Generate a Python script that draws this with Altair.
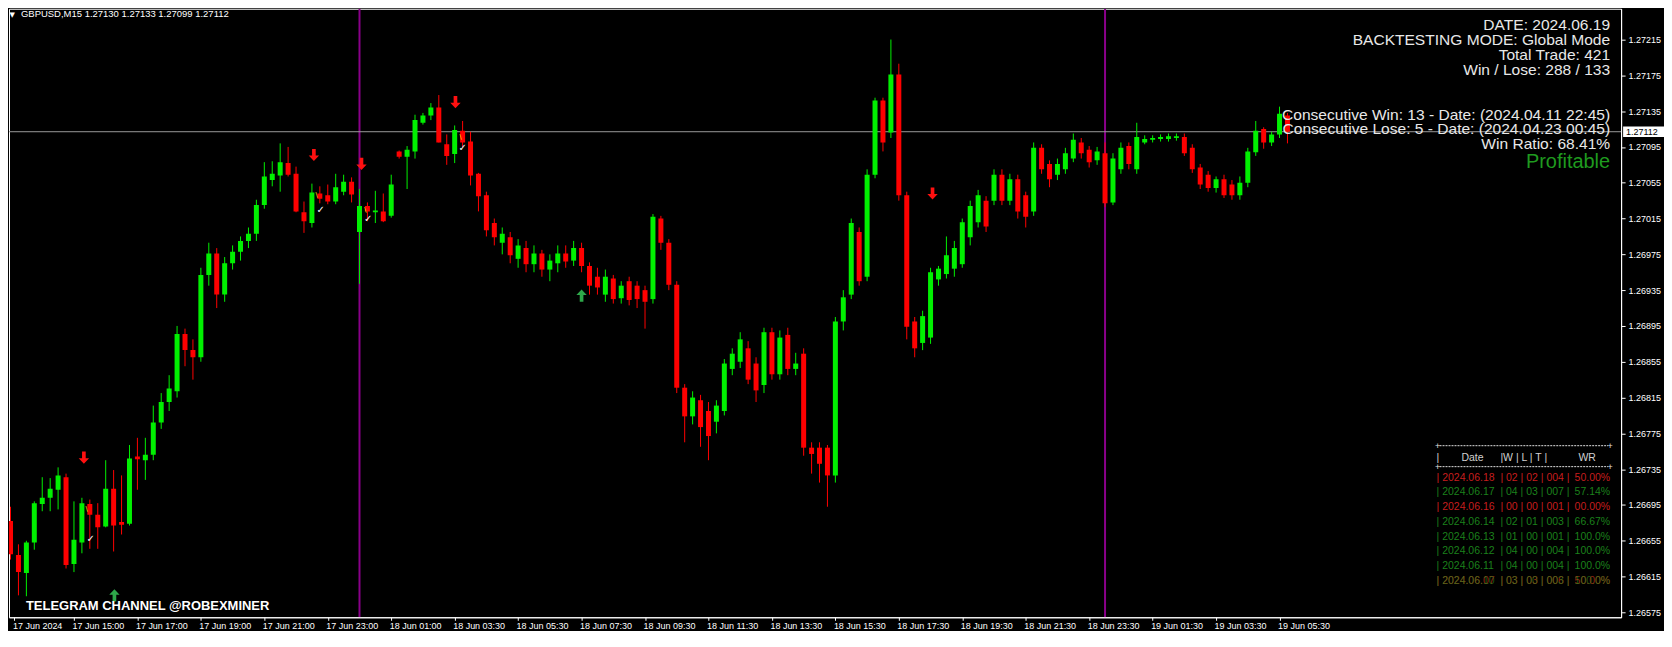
import json
import altair as alt
import pandas as pd

# ---------------- candle data (GBPUSD M15) ----------------
bar_open = [1.26677,1.26639,1.26619,1.26653,1.26696,1.26703,1.26712,1.26726,1.26629,1.26653,
            1.26696,1.26684,1.26671,1.26713,1.26676,1.26674,1.26749,1.26745,1.26751,1.26787,
            1.26810,1.26822,1.26886,1.26868,1.26860,1.26952,1.26976,1.26930,1.26965,1.26978,
            1.26990,1.26998,1.27030,1.27058,1.27063,1.27077,1.27065,1.27022,1.27010,1.27043,
            1.27041,1.27034,1.27045,1.27056,1.27000,1.27029,1.27022,1.27023,1.27018,1.27090,
            1.27084,1.27090,1.27122,1.27130,1.27139,1.27098,1.27087,1.27113,1.27101,1.27065,
            1.27041,1.27010,1.26988,1.26994,1.26970,1.26982,1.26964,1.26976,1.26958,1.26965,
            1.26976,1.26968,1.26982,1.26962,1.26950,1.26930,1.26948,1.26926,1.26945,1.26940,
            1.26935,1.26925,1.27015,1.26988,1.26941,1.26826,1.26794,1.26812,1.26800,1.26788,
            1.26800,1.26847,1.26855,1.26870,1.26853,1.26829,1.26888,1.26841,1.26885,1.26847,
            1.26864,1.26759,1.26759,1.26759,1.26728,1.26900,1.26930,1.27000,1.26950,1.27064,
            1.27147,1.27111,1.27176,1.27041,1.26900,1.26876,1.26882,1.26947,1.26953,1.26959,
            1.26964,1.26994,1.27011,1.27035,1.27035,1.27064,1.27035,1.27059,1.27041,1.27023,
            1.27094,1.27076,1.27064,1.27070,1.27082,1.27100,1.27092,1.27080,1.27088,1.27033,
            1.27070,1.27096,1.27070,1.27100,1.27103,1.27104,1.27104,1.27105,1.27106,1.27094,
            1.27072,1.27064,1.27049,1.27059,1.27053,1.27041,1.27055,1.27089,1.27115,1.27100,
            1.27109,1.27130]
bar_high = [1.26693,1.26651,1.26655,1.26699,1.26726,1.26725,1.26737,1.26730,1.26699,1.26703,
            1.26701,1.26697,1.26745,1.26734,1.26728,1.26762,1.26770,1.26770,1.26806,1.26820,
            1.26840,1.26895,1.26892,1.26880,1.26960,1.26988,1.26982,1.26972,1.26985,1.26995,
            1.27005,1.27036,1.27078,1.27079,1.27099,1.27095,1.27073,1.27034,1.27054,1.27051,
            1.27053,1.27065,1.27064,1.27061,1.27048,1.27033,1.27046,1.27043,1.27064,1.27091,
            1.27096,1.27131,1.27133,1.27144,1.27153,1.27109,1.27119,1.27124,1.27112,1.27066,
            1.27045,1.27015,1.27005,1.27000,1.26992,1.26990,1.26985,1.26980,1.26975,1.26985,
            1.26985,1.26990,1.26988,1.26966,1.26960,1.26958,1.26952,1.26945,1.26950,1.26945,
            1.26940,1.27020,1.27018,1.26992,1.26945,1.26830,1.26822,1.26818,1.26810,1.26812,
            1.26858,1.26870,1.26888,1.26878,1.26860,1.26893,1.26893,1.26890,1.26893,1.26865,
            1.26870,1.26765,1.26765,1.26762,1.26905,1.26935,1.27015,1.27005,1.27070,1.27150,
            1.27150,1.27215,1.27188,1.27045,1.26905,1.26912,1.26960,1.26962,1.26995,1.26990,
            1.27015,1.27035,1.27047,1.27040,1.27070,1.27070,1.27065,1.27064,1.27045,1.27100,
            1.27098,1.27080,1.27082,1.27094,1.27110,1.27105,1.27096,1.27095,1.27100,1.27088,
            1.27100,1.27100,1.27122,1.27108,1.27108,1.27109,1.27110,1.27110,1.27110,1.27098,
            1.27076,1.27068,1.27062,1.27064,1.27058,1.27062,1.27094,1.27124,1.27117,1.27112,
            1.27140,1.27133]
bar_low = [1.26634,1.26594,1.26593,1.26645,1.26688,1.26688,1.26690,1.26624,1.26620,1.26641,
           1.26646,1.26646,1.26670,1.26643,1.26662,1.26672,1.26712,1.26723,1.26745,1.26780,
           1.26800,1.26815,1.26850,1.26835,1.26855,1.26940,1.26915,1.26922,1.26958,1.26968,
           1.26982,1.26990,1.27026,1.27051,1.27045,1.27062,1.27022,1.26999,1.27005,1.27032,
           1.27031,1.27031,1.27041,1.27033,1.26942,1.27012,1.27010,1.27011,1.27016,1.27082,
           1.27048,1.27082,1.27120,1.27125,1.27100,1.27075,1.27077,1.27095,1.27052,1.27023,
           1.26995,1.26985,1.26975,1.26965,1.26960,1.26955,1.26955,1.26950,1.26945,1.26955,
           1.26960,1.26962,1.26955,1.26930,1.26930,1.26922,1.26920,1.26920,1.26918,1.26915,
           1.26892,1.26920,1.26980,1.26935,1.26820,1.26765,1.26785,1.26760,1.26745,1.26775,
           1.26795,1.26840,1.26848,1.26830,1.26810,1.26820,1.26835,1.26835,1.26840,1.26840,
           1.26750,1.26730,1.26720,1.26693,1.26720,1.26890,1.26925,1.26940,1.26945,1.27060,
           1.27090,1.27105,1.27035,1.26880,1.26860,1.26868,1.26875,1.26940,1.26948,1.26950,
           1.26960,1.26985,1.27005,1.27000,1.27030,1.27030,1.27030,1.27015,1.27005,1.27018,
           1.27065,1.27050,1.27058,1.27065,1.27078,1.27082,1.27072,1.27075,1.27028,1.27030,
           1.27065,1.27070,1.27065,1.27098,1.27100,1.27101,1.27101,1.27102,1.27085,1.27066,
           1.27048,1.27045,1.27044,1.27038,1.27036,1.27036,1.27050,1.27085,1.27093,1.27096,
           1.27105,1.27099]
bar_close = [1.26640,1.26620,1.26653,1.26697,1.26703,1.26713,1.26728,1.26628,1.26656,1.26697,
             1.26684,1.26670,1.26713,1.26672,1.26673,1.26747,1.26746,1.26751,1.26787,1.26810,
             1.26825,1.26886,1.26868,1.26860,1.26952,1.26976,1.26930,1.26965,1.26978,1.26990,
             1.26998,1.27030,1.27062,1.27065,1.27078,1.27064,1.27023,1.27012,1.27044,1.27037,
             1.27034,1.27050,1.27056,1.27042,1.27029,1.27023,1.27024,1.27012,1.27053,1.27084,
             1.27092,1.27125,1.27130,1.27139,1.27100,1.27085,1.27114,1.27100,1.27063,1.27040,
             1.27002,1.26994,1.26998,1.26974,1.26985,1.26964,1.26976,1.26958,1.26968,1.26976,
             1.26967,1.26982,1.26962,1.26940,1.26938,1.26950,1.26925,1.26940,1.26924,1.26925,
             1.26922,1.27017,1.26988,1.26941,1.26826,1.26794,1.26815,1.26782,1.26772,1.26806,
             1.26853,1.26864,1.26880,1.26835,1.26823,1.26888,1.26841,1.26882,1.26847,1.26853,
             1.26759,1.26752,1.26741,1.26728,1.26900,1.26927,1.27010,1.26945,1.27064,1.27147,
             1.27100,1.27176,1.27041,1.26894,1.26870,1.26906,1.26955,1.26959,1.26974,1.26982,
             1.27011,1.27029,1.27041,1.27006,1.27064,1.27035,1.27059,1.27023,1.27017,1.27094,
             1.27070,1.27059,1.27076,1.27088,1.27103,1.27088,1.27078,1.27090,1.27032,1.27082,
             1.27094,1.27076,1.27106,1.27104,1.27105,1.27106,1.27107,1.27107,1.27088,1.27070,
             1.27053,1.27049,1.27059,1.27041,1.27041,1.27055,1.27090,1.27113,1.27100,1.27109,
             1.27132,1.27112]

# ---------------- axes ----------------
x_tick_bars = [0.5, 8, 16, 24, 32, 40, 48, 56, 64, 72, 80, 88, 96, 104, 112, 120, 128, 136, 144, 152, 160]
x_tick_labels = ["17 Jun 2024", "17 Jun 15:00", "17 Jun 17:00", "17 Jun 19:00", "17 Jun 21:00",
                 "17 Jun 23:00", "18 Jun 01:00", "18 Jun 03:30", "18 Jun 05:30", "18 Jun 07:30",
                 "18 Jun 09:30", "18 Jun 11:30", "18 Jun 13:30", "18 Jun 15:30", "18 Jun 17:30",
                 "18 Jun 19:30", "18 Jun 21:30", "18 Jun 23:30", "19 Jun 01:30", "19 Jun 03:30",
                 "19 Jun 05:30"]
y_ticks = [1.26575, 1.26615, 1.26655, 1.26695, 1.26735, 1.26775, 1.26815, 1.26855, 1.26895,
           1.26935, 1.26975, 1.27015, 1.27055, 1.27095, 1.27135, 1.27175, 1.27215]

# ---------------- chart objects ----------------
separator_bars = [44, 138]
current_price = [1.27112]
sell_arrow_bars = [9.25, 38.25, 44.25, 56.1, 116.25]
sell_arrow_prices = [1.26748, 1.27086, 1.27076, 1.27145, 1.27043]
buy_arrow_bars = [13.1, 72]
buy_arrow_prices = [1.26594, 1.26929]
check_bars = [10.1, 39.1, 45.1, 57.0]
check_prices = [1.26657, 1.27024, 1.27014, 1.27094]
tick_mark_bars = [9.6, 38.6, 44.75, 56.75]
tick_mark_prices = [1.26690, 1.27041, 1.27024, 1.27106]

header_text = "GBPUSD,M15  1.27130 1.27133 1.27099 1.27112"
info_lines = ["DATE: 2024.06.19", "BACKTESTING MODE: Global Mode", "Total Trade: 421",
              "Win / Lose: 288 / 133", "Consecutive Win: 13 - Date: (2024.04.11 22:45)",
              "Consecutive Lose: 5 - Date: (2024.04.23 00:45)", "Win Ratio: 68.41%"]
profit_text = "Profitable"
telegram_text = "TELEGRAM CHANNEL @ROBEXMINER"

table_header = ["|", "Date", "|W | L | T |", "WR"]
table_dates = ["| 2024.06.18", "| 2024.06.17", "| 2024.06.16", "| 2024.06.14", "| 2024.06.13",
               "| 2024.06.12", "| 2024.06.11", "| 2024.06.07", "| 2024.06.10"]
table_counts = ["| 02 | 02 | 004 |", "| 04 | 03 | 007 |", "| 00 | 00 | 001 |", "| 02 | 01 | 003 |",
                "| 01 | 00 | 001 |", "| 04 | 00 | 004 |", "| 04 | 00 | 004 |", "| 03 | 03 | 006 |",
                "| 03 | 00 | 003 |"]
table_wr = ["50.00%", "57.14%", "00.00%", "66.67%", "100.0%", "100.0%", "100.0%", "50.00%", "100.0%"]
table_row = [0, 1, 2, 3, 4, 5, 6, 7, 7]
table_color = ["#dd2020", "#1f8f1f", "#dd2020", "#1f8f1f", "#1f8f1f", "#1f8f1f", "#1f8f1f",
               "#c03018", "#2f8f1f"]
table_opacity = [0.9, 0.9, 0.9, 0.9, 0.9, 0.9, 0.9, 0.75, 0.6]

GREEN = "#00f000"
RED = "#ff0000"
FONT = "Liberation Sans"
W, H = 1616, 610

candles = pd.DataFrame({
    "i": list(range(len(bar_open))),
    "open": bar_open, "high": bar_high, "low": bar_low, "close": bar_close,
})
candles["dir"] = ["up" if c >= o else "down" for o, c in zip(bar_open, bar_close)]

xscale = alt.Scale(domain=[0.4375, 202.4375], nice=False, zero=False)
yscale = alt.Scale(domain=[1.265695, 1.272494], nice=False, zero=False)
label_expr = json.dumps(x_tick_labels) + "[round(datum.value / 8)]"

xaxis = alt.Axis(values=x_tick_bars, labelExpr=label_expr, orient="bottom", tickSize=3,
                 labelPadding=1, labelAlign="left", labelBaseline="top", labelFont=FONT,
                 labelFontSize=9, labelColor="white", tickColor="white", domainColor="white",
                 grid=False, title=None, labelOverlap=False, labelFlush=False, labelBound=False,
                 labelOffset=-2)
yaxis = alt.Axis(values=y_ticks, format=".5f", orient="right", tickSize=4, labelPadding=3,
                 labelAlign="left", labelBaseline="middle", labelFont=FONT, labelFontSize=9,
                 labelColor="white", tickColor="white", domainColor="white", grid=False,
                 title=None, labelOverlap=False, labelFlush=False)
colors = alt.Color("dir:N", scale=alt.Scale(domain=["up", "down"], range=[GREEN, RED]), legend=None)


def X(field):
    return alt.X(field, scale=xscale, axis=xaxis)


def Y(field):
    return alt.Y(field, scale=yscale, axis=yaxis)


sep = alt.Chart(pd.DataFrame({"b": separator_bars})).mark_rule(
    color="#8a008a", strokeWidth=2, clip=True
).encode(x=X("b:Q"))

price_line = alt.Chart(pd.DataFrame({"p": current_price})).mark_rule(
    color="#9a9a9a", strokeWidth=1
).encode(y=Y("p:Q"))

wicks = alt.Chart(candles).mark_rule(strokeWidth=1, clip=True).encode(
    x=X("i:Q"), y=Y("low:Q"), y2="high:Q", color=colors,
)
bodies = alt.Chart(candles).mark_bar(size=5, clip=True).encode(
    x=X("i:Q"), y=Y("open:Q"), y2="close:Q", color=colors,
)

down_path = "M-0.3,-1L0.3,-1L0.3,0.1L0.85,0.1L0,1L-0.85,0.1L-0.3,0.1Z"
up_path = "M-0.3,1L0.3,1L0.3,-0.1L0.85,-0.1L0,-1L-0.85,-0.1L-0.3,-0.1Z"
sell_arrows = alt.Chart(pd.DataFrame({"b": sell_arrow_bars, "p": sell_arrow_prices})).mark_point(
    shape=down_path, filled=True, size=150, color="#ff1010", opacity=1, strokeWidth=0
).encode(x=X("b:Q"), y=Y("p:Q"))
buy_arrows = alt.Chart(pd.DataFrame({"b": buy_arrow_bars, "p": buy_arrow_prices})).mark_point(
    shape=up_path, filled=True, size=150, color="#2ea84a", opacity=1, strokeWidth=0
).encode(x=X("b:Q"), y=Y("p:Q"))
checks = alt.Chart(pd.DataFrame({"b": check_bars, "p": check_prices})).mark_text(
    text="✓", font="DejaVu Sans", fontSize=10, color="white", baseline="middle"
).encode(x=X("b:Q"), y=Y("p:Q"))
yellow_marks = alt.Chart(pd.DataFrame({"b": tick_mark_bars, "p": tick_mark_prices})).mark_text(
    text="\\", font="DejaVu Sans", fontSize=7, color="#ffee00", baseline="middle"
).encode(x=X("b:Q"), y=Y("p:Q"))

# price label box on the right axis
box_df = pd.DataFrame({"p": current_price})
price_box = alt.Chart(box_df).transform_calculate(
    lo="datum.p - 0.000058", hi="datum.p + 0.000058"
).mark_rect(color="white").encode(
    x=alt.value(W + 2), x2=alt.value(W + 43), y=Y("lo:Q"), y2="hi:Q",
)
price_box_text = alt.Chart(box_df).mark_text(
    align="left", baseline="middle", font=FONT, fontSize=9, color="black"
).encode(x=alt.value(W + 5), y=Y("p:Q"), text=alt.Text("p:Q", format=".5f"))


# texts placed in pixel space
def text_layer(df, align, size, weight="normal", font=FONT, baseline="alphabetic"):
    enc = dict(
        x=alt.X("px:Q", scale=None, axis=None),
        y=alt.Y("py:Q", scale=None, axis=None),
        text="t:N",
        color=alt.Color("c:N", scale=None, legend=None),
    )
    if "o" in df.columns:
        enc["opacity"] = alt.Opacity("o:Q", scale=None, legend=None)
    return alt.Chart(df).mark_text(
        align=align, baseline=baseline, font=font, fontSize=size, fontWeight=weight
    ).encode(**enc)


header = text_layer(pd.DataFrame({"t": [header_text], "px": [12], "py": [8.5], "c": ["white"]}),
                    "left", 9.5)
header_tri = text_layer(pd.DataFrame({"t": ["▼"], "px": [0.5], "py": [8], "c": ["white"]}),
                        "left", 7, font="DejaVu Sans")
info = text_layer(pd.DataFrame({"t": info_lines, "px": [1605] * 7,
                                "py": [21.5, 36.5, 51.5, 66.5, 111.5, 126, 141],
                                "c": ["#e8e8e8"] * 7}), "right", 15.6)
profit = text_layer(pd.DataFrame({"t": [profit_text], "px": [1605], "py": [160], "c": ["#1f9a1f"]}),
                    "right", 20)
telegram = text_layer(pd.DataFrame({"t": [telegram_text], "px": [17], "py": [603], "c": ["white"]}),
                      "left", 13, weight="bold")

row_y = [473 + 14.8 * r for r in table_row]
tab_c1 = text_layer(pd.DataFrame({"t": table_dates, "px": [1431] * 9, "py": row_y, "c": table_color,
                                  "o": table_opacity}), "left", 10.5)
tab_c2 = text_layer(pd.DataFrame({"t": table_counts, "px": [1495] * 9, "py": row_y, "c": table_color,
                                  "o": table_opacity}), "left", 10.5)
tab_c3 = text_layer(pd.DataFrame({"t": table_wr, "px": [1605] * 9, "py": row_y, "c": table_color,
                                  "o": table_opacity}), "right", 10.5)
tab_head_l = text_layer(pd.DataFrame({"t": [table_header[0], table_header[2]], "px": [1431, 1495],
                                      "py": [453, 453], "c": ["#d0d0d0"] * 2}), "left", 10.5)
tab_head_c = text_layer(pd.DataFrame({"t": [table_header[1], table_header[3]], "px": [1467, 1582],
                                      "py": [453, 453], "c": ["#d0d0d0"] * 2}), "center", 10.5)
dash_df = pd.DataFrame({"py": [438, 459]})
tab_lines = alt.Chart(dash_df).mark_rule(color="#e0e0e0", strokeDash=[2, 1], strokeWidth=1).encode(
    x=alt.value(1434), x2=alt.value(1603), y=alt.Y("py:Q", scale=None, axis=None)
)
plus_df = pd.DataFrame({"t": ["+"] * 4, "px": [1432, 1605, 1432, 1605], "py": [438, 438, 459, 459],
                        "c": ["#e0e0e0"] * 4})
tab_plus = text_layer(plus_df, "center", 9, baseline="middle")

chart = alt.layer(
    sep, price_line, wicks, bodies, yellow_marks, checks, sell_arrows, buy_arrows,
    header_tri, header, info, profit, tab_lines, tab_plus, tab_head_l, tab_head_c,
    tab_c1, tab_c2, tab_c3, telegram, price_box, price_box_text,
).properties(
    width=W, height=H, padding=0, background="#000000"
).configure_view(stroke="#ffffff", strokeWidth=1)

chart.save("out.html", embed_options={"renderer": "svg", "actions": False})
